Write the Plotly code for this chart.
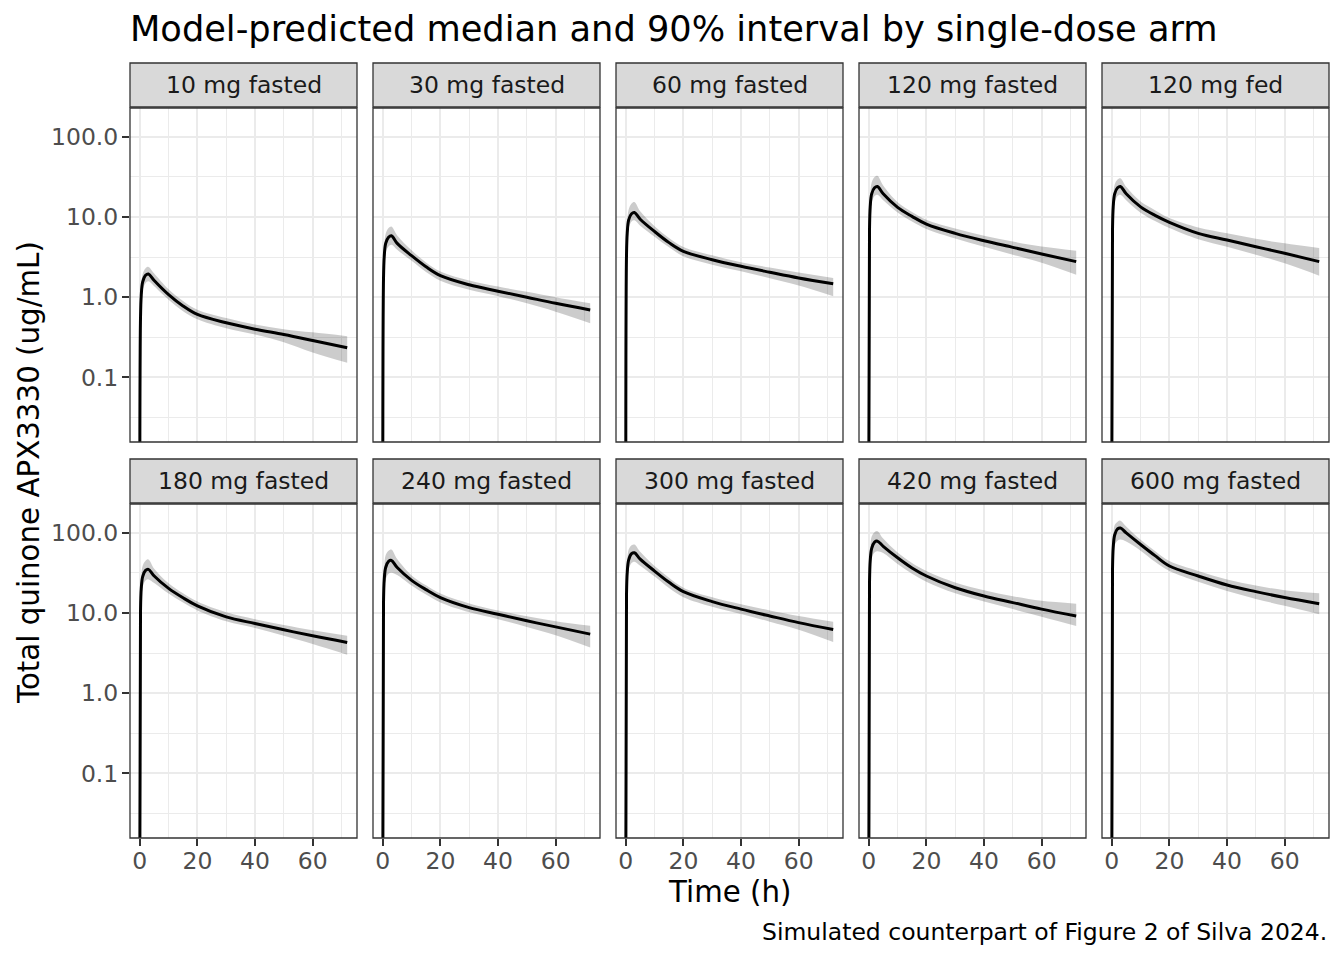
import plotly.graph_objects as go

# --- Dados (mediana e intervalo de 90%) ---
ARMS = ["10 mg fasted", "30 mg fasted", "60 mg fasted", "120 mg fasted", "120 mg fed",
        "180 mg fasted", "240 mg fasted", "300 mg fasted", "420 mg fasted", "600 mg fasted"]

TIME_H = [0, 0.25, 0.5, 1, 2, 3, 5, 10, 15, 20, 30, 40, 50, 60, 72]

MED_10 = [0.005, 0.55, 1.05, 1.55, 1.88, 1.95, 1.62, 1.08, 0.78, 0.61, 0.48, 0.40, 0.343, 0.289, 0.234]
LO_10 = [0.005, 0.38, 0.78, 1.22, 1.50, 1.58, 1.37, 0.93, 0.67, 0.53, 0.41, 0.343, 0.275, 0.205, 0.152]
HI_10 = [0.005, 0.78, 1.40, 1.95, 2.30, 2.39, 1.98, 1.26, 0.90, 0.70, 0.55, 0.457, 0.40, 0.365, 0.327]

MED_30 = [0.005, 1.7, 3.2, 4.7, 5.6, 5.86, 4.7, 3.30, 2.40, 1.86, 1.43, 1.19, 1.0, 0.84, 0.695]
LO_30 = [0.005, 1.1, 2.3, 3.6, 4.3, 4.5, 3.9, 2.85, 2.07, 1.61, 1.24, 1.03, 0.84, 0.66, 0.474]
HI_30 = [0.005, 2.5, 4.4, 6.2, 7.3, 7.6, 5.9, 3.85, 2.72, 2.10, 1.62, 1.36, 1.17, 1.0, 0.84]

MED_60 = [0.005, 3.4, 6.3, 9.2, 11.0, 11.4, 9.4, 6.6, 4.8, 3.74, 2.94, 2.43, 2.05, 1.74, 1.47]
LO_60 = [0.005, 2.2, 4.5, 7.2, 8.8, 9.1, 7.8, 5.7, 4.2, 3.24, 2.55, 2.11, 1.73, 1.40, 1.03]
HI_60 = [0.005, 5.0, 8.8, 12.4, 14.8, 15.4, 11.8, 7.7, 5.5, 4.24, 3.33, 2.73, 2.35, 2.03, 1.74]

MED_120 = [0.005, 7.0, 13.5, 19.5, 23.2, 24.1, 19.5, 13.2, 10.2, 8.18, 6.27, 5.07, 4.19, 3.46, 2.78]
LO_120 = [0.005, 4.5, 9.5, 15.0, 18.3, 19.0, 16.2, 11.4, 8.8, 7.1, 5.4, 4.27, 3.40, 2.70, 1.91]
HI_120 = [0.005, 10.5, 19.0, 27.0, 31.5, 32.7, 24.7, 15.3, 11.6, 9.27, 7.2, 5.86, 4.95, 4.30, 3.81]

MED_120FED = [0.005, 7.0, 13.5, 19.5, 23.2, 24.1, 19.5, 13.4, 10.5, 8.6, 6.27, 5.17, 4.27, 3.53, 2.78]
LO_120FED = [0.005, 4.5, 9.5, 15.0, 18.3, 19.0, 16.2, 11.3, 8.9, 7.3, 5.3, 4.27, 3.40, 2.65, 1.86]
HI_120FED = [0.005, 10.0, 18.0, 25.5, 29.5, 30.5, 23.8, 15.6, 12.2, 9.7, 7.4, 6.27, 5.35, 4.70, 4.11]

MED_180 = [0.005, 10.5, 20.0, 28.5, 34.0, 35.1, 29.0, 20.3, 15.5, 12.3, 8.96, 7.41, 6.18, 5.20, 4.30]
LO_180 = [0.005, 6.5, 13.5, 21.0, 25.5, 26.3, 23.7, 17.5, 13.5, 10.8, 7.9, 6.5, 5.2, 4.1, 3.02]
HI_180 = [0.005, 16.0, 29.0, 39.0, 45.0, 46.7, 35.8, 23.5, 17.6, 13.9, 10.2, 8.4, 7.1, 6.1, 5.2]

MED_240 = [0.005, 13.5, 26.0, 37.0, 44.0, 45.3, 37.0, 25.6, 19.6, 15.6, 11.7, 9.66, 8.0, 6.73, 5.46]
LO_240 = [0.005, 8.0, 17.0, 26.0, 31.0, 31.9, 29.8, 22.0, 17.0, 13.5, 10.2, 8.4, 6.7, 5.3, 3.72]
HI_240 = [0.005, 21.0, 38.0, 53.0, 60.0, 62.0, 47.1, 29.5, 22.2, 17.5, 13.2, 10.8, 9.1, 7.9, 6.93]

MED_300 = [0.005, 17.0, 32.0, 46.0, 55.0, 56.5, 47.0, 33.4, 24.2, 18.5, 13.9, 11.2, 9.2, 7.6, 6.24]
LO_300 = [0.005, 11.0, 22.0, 35.0, 42.0, 43.7, 38.8, 28.5, 20.5, 15.8, 12.0, 9.7, 7.8, 6.2, 4.35]
HI_300 = [0.005, 25.0, 45.0, 62.0, 70.0, 71.6, 58.1, 38.5, 27.5, 20.7, 15.7, 12.9, 10.8, 9.2, 7.8]

MED_420 = [0.005, 24.0, 45.0, 64.0, 76.5, 78.8, 68.0, 48.9, 36.5, 29.0, 20.7, 16.3, 13.5, 11.2, 9.2]
LO_420 = [0.005, 15.0, 31.0, 48.0, 57.0, 59.0, 56.0, 41.0, 31.0, 24.6, 17.6, 13.9, 11.2, 9.0, 6.9]
HI_420 = [0.005, 36.0, 65.0, 90.0, 102.0, 105.0, 85.0, 57.0, 42.0, 33.4, 24.0, 19.2, 16.2, 14.2, 13.1]

MED_600 = [0.005, 35.0, 66.0, 94.0, 112.0, 115.0, 100.0, 71.6, 52.0, 38.6, 29.0, 22.4, 18.5, 15.6, 13.1]
LO_600 = [0.005, 22.0, 45.0, 70.0, 80.0, 82.6, 78.0, 60.0, 43.5, 33.4, 24.5, 18.8, 15.0, 12.3, 9.66]
HI_600 = [0.005, 52.0, 92.0, 125.0, 138.0, 142.0, 120.0, 82.0, 59.5, 44.5, 33.5, 26.3, 22.0, 19.3, 17.6]

MEDIANS = [MED_10, MED_30, MED_60, MED_120, MED_120FED, MED_180, MED_240, MED_300, MED_420, MED_600]
LOWERS = [LO_10, LO_30, LO_60, LO_120, LO_120FED, LO_180, LO_240, LO_300, LO_420, LO_600]
UPPERS = [HI_10, HI_30, HI_60, HI_120, HI_120FED, HI_180, HI_240, HI_300, HI_420, HI_600]

# Eixos
Y_TICKS = [0.1, 1, 10, 100]
Y_TICK_LABELS = ["0.1", "1.0", "10.0", "100.0"]
Y_MINOR = [0.0316, 0.316, 3.16, 31.6]
X_TICKS = [0, 20, 40, 60]
X_MINOR = [10, 30, 50, 70]

# --- Geometria (pixels da imagem 1344x960) ---
W, H = 1344, 960
COLS = [(130, 357), (373, 600), (616, 843), (859, 1086), (1102, 1329)]
ROWS = [(108, 442), (504, 838)]
STRIP_H = 44

FONT = "DejaVu Sans"
GRID = "#EBEBEB"
DARK = "#333333"
SMOOTH = 1.0

fig = go.Figure()
layout = {}
shapes = []
annotations = []

for i, arm in enumerate(ARMS):
    r, c = divmod(i, 5)
    x0, x1 = COLS[c]
    y0, y1 = ROWS[r]
    xa = "x" if i == 0 else f"x{i + 1}"
    ya = "y" if i == 0 else f"y{i + 1}"

    # faixa de 90%
    fig.add_trace(go.Scatter(x=TIME_H, y=LOWERS[i], mode="lines",
                             line=dict(width=0, shape="spline", smoothing=SMOOTH),
                             xaxis=xa, yaxis=ya, showlegend=False, hoverinfo="skip"))
    fig.add_trace(go.Scatter(x=TIME_H, y=UPPERS[i], mode="lines",
                             line=dict(width=0, shape="spline", smoothing=SMOOTH),
                             fill="tonexty", fillcolor="rgba(0,0,0,0.2)",
                             xaxis=xa, yaxis=ya, showlegend=False, hoverinfo="skip"))
    # mediana
    fig.add_trace(go.Scatter(x=TIME_H, y=MEDIANS[i], mode="lines",
                             line=dict(color="black", width=3, shape="spline", smoothing=SMOOTH),
                             xaxis=xa, yaxis=ya, showlegend=False, name=arm))

    bottom_row = r == 1
    left_col = c == 0
    layout["xaxis" if i == 0 else f"xaxis{i + 1}"] = dict(
        domain=[x0 / W, x1 / W], anchor=ya, range=[-3.4, 75.4],
        tickmode="array", tickvals=X_TICKS, ticktext=[str(v) for v in X_TICKS],
        showticklabels=bottom_row, ticks="outside" if bottom_row else "",
        ticklen=7, tickwidth=2, tickcolor=DARK, ticklabelstandoff=-5,
        tickfont=dict(family=FONT, size=23.5, color="#4D4D4D"),
        showgrid=True, gridcolor=GRID, gridwidth=2, zeroline=False, showline=False,
        minor=dict(tickvals=X_MINOR, showgrid=True, gridcolor=GRID, gridwidth=1.2, ticks=""),
    )
    layout["yaxis" if i == 0 else f"yaxis{i + 1}"] = dict(
        domain=[1 - y1 / H, 1 - y0 / H], anchor=xa, type="log", range=[-1.805, 2.36],
        tickmode="array", tickvals=Y_TICKS, ticktext=Y_TICK_LABELS,
        showticklabels=left_col, ticks="outside" if left_col else "",
        ticklen=7, tickwidth=2, tickcolor=DARK, ticklabelstandoff=-1,
        tickfont=dict(family=FONT, size=23.5, color="#4D4D4D"),
        showgrid=True, gridcolor=GRID, gridwidth=2, zeroline=False, showline=False,
        minor=dict(tickvals=Y_MINOR, showgrid=True, gridcolor=GRID, gridwidth=1.2, ticks=""),
    )

    # borda do painel
    shapes.append(dict(type="rect", xref="paper", yref="paper", layer="above",
                       x0=x0 / W, x1=x1 / W, y0=1 - y1 / H, y1=1 - y0 / H,
                       line=dict(color=DARK, width=1.3), fillcolor="rgba(0,0,0,0)"))
    # faixa do título (strip)
    s0 = y0 - 1 - STRIP_H
    shapes.append(dict(type="rect", xref="paper", yref="paper", layer="above",
                       x0=x0 / W, x1=x1 / W, y0=1 - (y0 - 1) / H, y1=1 - s0 / H,
                       line=dict(color=DARK, width=1.3), fillcolor="#D9D9D9"))
    annotations.append(dict(text=arm, xref="paper", yref="paper", showarrow=False,
                            x=(x0 + x1) / 2 / W, y=1 - (s0 + STRIP_H / 2) / H,
                            xanchor="center", yanchor="middle",
                            font=dict(family=FONT, size=23.5, color="#1A1A1A")))

annotations += [
    dict(text="Model-predicted median and 90% interval by single-dose arm", xref="paper", yref="paper",
         x=128 / W, y=1 - 29 / H, xanchor="left", yanchor="middle", showarrow=False,
         font=dict(family=FONT, size=35.2, color="black")),
    dict(text="Time (h)", xref="paper", yref="paper", x=729.5 / W, y=1 - 892 / H,
         xanchor="center", yanchor="middle", showarrow=False,
         font=dict(family=FONT, size=29.3, color="black")),
    dict(text="Total quinone APX3330 (ug/mL)", xref="paper", yref="paper", x=29 / W, y=1 - 473 / H,
         xanchor="center", yanchor="middle", textangle=-90, showarrow=False,
         font=dict(family=FONT, size=29.3, color="black")),
    dict(text="Simulated counterpart of Figure 2 of Silva 2024.", xref="paper", yref="paper",
         x=1329 / W, y=1 - 932 / H, xanchor="right", yanchor="middle", showarrow=False,
         font=dict(family=FONT, size=23.5, color="black")),
]

fig.update_layout(
    width=W, height=H, margin=dict(l=0, r=0, t=0, b=0),
    paper_bgcolor="white", plot_bgcolor="white",
    shapes=shapes, annotations=annotations, **layout,
)

# a página padrão tem margem de 8px no body; zera para alinhar com a imagem
fig.write_html("out.html", config={"displayModeBar": False},
               post_script="document.body.style.margin='0px';")
